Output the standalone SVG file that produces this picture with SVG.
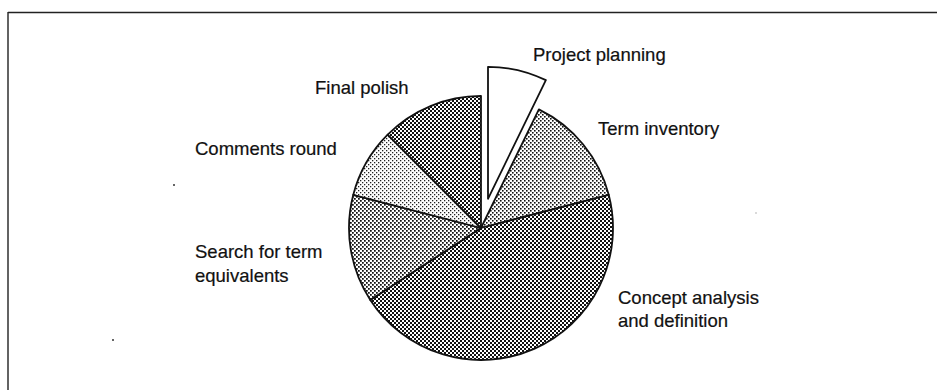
<svg xmlns="http://www.w3.org/2000/svg" width="937" height="390" viewBox="0 0 937 390">
<defs>
<pattern id="pDark" width="4" height="4" patternUnits="userSpaceOnUse"><rect width="4" height="4" fill="#fff"/><rect x="0" y="0" width="2" height="2" fill="#111"/><rect x="2" y="2" width="2" height="2" fill="#111"/></pattern>
<pattern id="pMed" width="4" height="4" patternUnits="userSpaceOnUse"><rect width="4" height="4" fill="#fff"/><rect x="0" y="0" width="1.75" height="1.75" fill="#111"/><rect x="2" y="2" width="1.75" height="1.75" fill="#111"/></pattern>
<pattern id="pMedLight" width="4" height="4" patternUnits="userSpaceOnUse"><rect width="4" height="4" fill="#fff"/><rect x="0" y="0" width="1.6" height="1.6" fill="#111"/><rect x="2" y="2" width="1.6" height="1.6" fill="#111"/></pattern>
<pattern id="pLight" width="4" height="4" patternUnits="userSpaceOnUse"><rect width="4" height="4" fill="#fff"/><rect x="0" y="0" width="1.3" height="1.3" fill="#222"/><rect x="2" y="2" width="1.3" height="1.3" fill="#222"/></pattern>
</defs>
<style>
.slice{stroke:#111;stroke-width:1.8;stroke-linejoin:round}
.lbl{font-family:"Liberation Sans",Arial,sans-serif;font-size:18.5px;fill:#111;stroke:#111;stroke-width:0.2}
.frame{stroke:#222;stroke-width:1.4;fill:none}
</style>
<rect width="937" height="390" fill="#fff"/>
<g id="frame">
<path class="frame" d="M8 12.5 H937 M8 12 V390"/>
</g>
<g id="pie">
<g id="slice-term-inventory"><path class="slice" fill="url(#pMedLight)" d="M481 228 L538.87 109.36 A132 132 0 0 1 608.79 194.95 Z"/></g>
<g id="slice-concept"><path class="slice" fill="url(#pDark)" d="M481 228 L608.79 194.95 A132 132 0 0 1 370.29 299.89 Z"/></g>
<g id="slice-search"><path class="slice" fill="url(#pMed)" d="M481 228 L370.29 299.89 A132 132 0 0 1 353.21 194.95 Z"/></g>
<g id="slice-comments"><path class="slice" fill="url(#pLight)" d="M481 228 L353.21 194.95 A132 132 0 0 1 387.66 134.66 Z"/></g>
<g id="slice-final"><path class="slice" fill="url(#pDark)" d="M481 228 L387.66 134.66 A132 132 0 0 1 481 96 Z"/></g>
<g id="slice-project"><path class="slice" fill="#fff" d="M488 198.8 L488 66.8 A132 132 0 0 1 545.87 80.16 Z"/></g>
</g>
<g id="labels">
<text class="lbl" x="533" y="61">Project planning</text>
<text class="lbl" x="315" y="94">Final polish</text>
<text class="lbl" x="598" y="135">Term inventory</text>
<text class="lbl" x="195" y="155">Comments round</text>
<text class="lbl" x="195" y="258">Search for term</text>
<text class="lbl" x="195" y="282">equivalents</text>
<text class="lbl" x="618" y="304">Concept analysis</text>
<text class="lbl" x="618" y="327">and definition</text>
</g>
<g id="specks">
<circle cx="174" cy="185" r="1" fill="#333"/>
<circle cx="113" cy="340" r="1" fill="#333"/>
<circle cx="756" cy="213" r="0.8" fill="#aaa"/>
</g>
</svg>
